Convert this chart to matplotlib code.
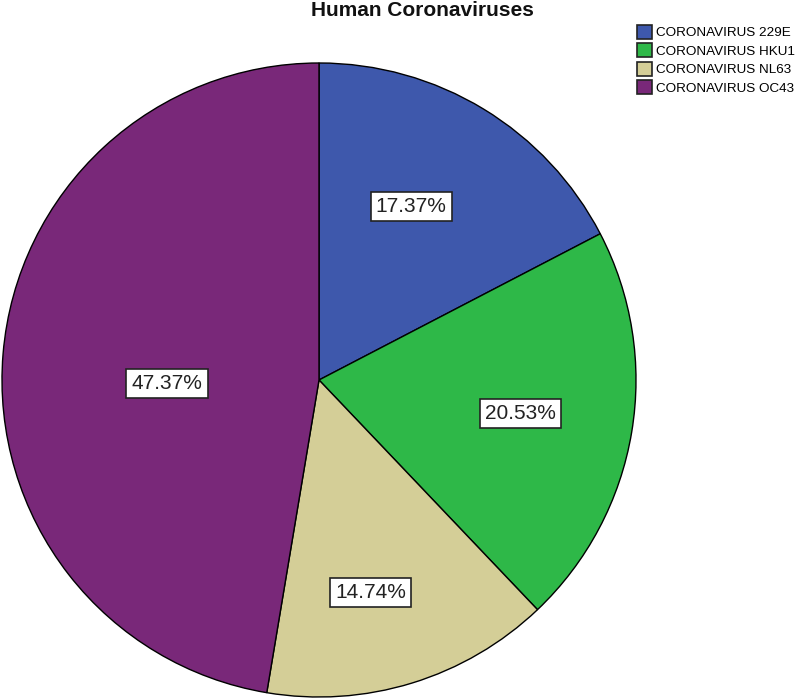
import numpy as np
import matplotlib
matplotlib.use("Agg")
import matplotlib.pyplot as plt
from matplotlib.patches import Patch

plt.rcParams['font.family'] = ['Liberation Sans', 'DejaVu Sans']

# data
labels = ['CORONAVIRUS 229E', 'CORONAVIRUS HKU1', 'CORONAVIRUS NL63', 'CORONAVIRUS OC43']
percents = [17.37, 20.53, 14.74, 47.37]
colors = ['#3E58AC', '#2EB848', '#D4CE97', '#792879']
# where each % box sits: fraction of radius, and turn (deg) away from the slice middle
label_dist = [0.62, 0.645, 0.69, 0.48]
label_turn = [3.3, 0.0, -3.4, 6.0]

W, H = 797, 699
fig = plt.figure(figsize=(W / 100, H / 100), dpi=100)

# pie area: centre ~ (319, 380) px, radius ~317 px
cx, cy, r = 319, 380, 317
ax = fig.add_axes([(cx - r) / W, (H - cy - r) / H, 2 * r / W, 2 * r / H])
wedges, _ = ax.pie(percents, colors=colors, startangle=90, counterclock=False,
                   wedgeprops=dict(edgecolor='black', linewidth=1.0))
ax.set_xlim(-1, 1)
ax.set_ylim(-1, 1)
ax.set_aspect('equal')
ax.axis('off')

for w, p, d, t in zip(wedges, percents, label_dist, label_turn):
    mid = np.deg2rad((w.theta1 + w.theta2) / 2 + t)
    ax.text(d * np.cos(mid), d * np.sin(mid), '%.2f%%' % p, ha='center', va='center',
            fontsize=15, color='#222222',
            bbox=dict(boxstyle='square,pad=0.25', facecolor='white', edgecolor='#222222', linewidth=1.2))

fig.text(422 / W, 1 - 10 / H, 'Human Coronaviruses', ha='center', va='center',
         fontsize=15, fontweight='bold', color='#111111')

handles = [Patch(facecolor=c, edgecolor='#222222', linewidth=1.2) for c in colors]
fig.legend(handles, labels, loc='upper left', bbox_to_anchor=(637 / W, 1 - 25 / H),
           frameon=False, fontsize=9.7, handlelength=1.1, handleheight=1.2,
           handletextpad=0.3, labelspacing=0.3, borderpad=0, borderaxespad=0)

fig.savefig('out.png', dpi=100)
